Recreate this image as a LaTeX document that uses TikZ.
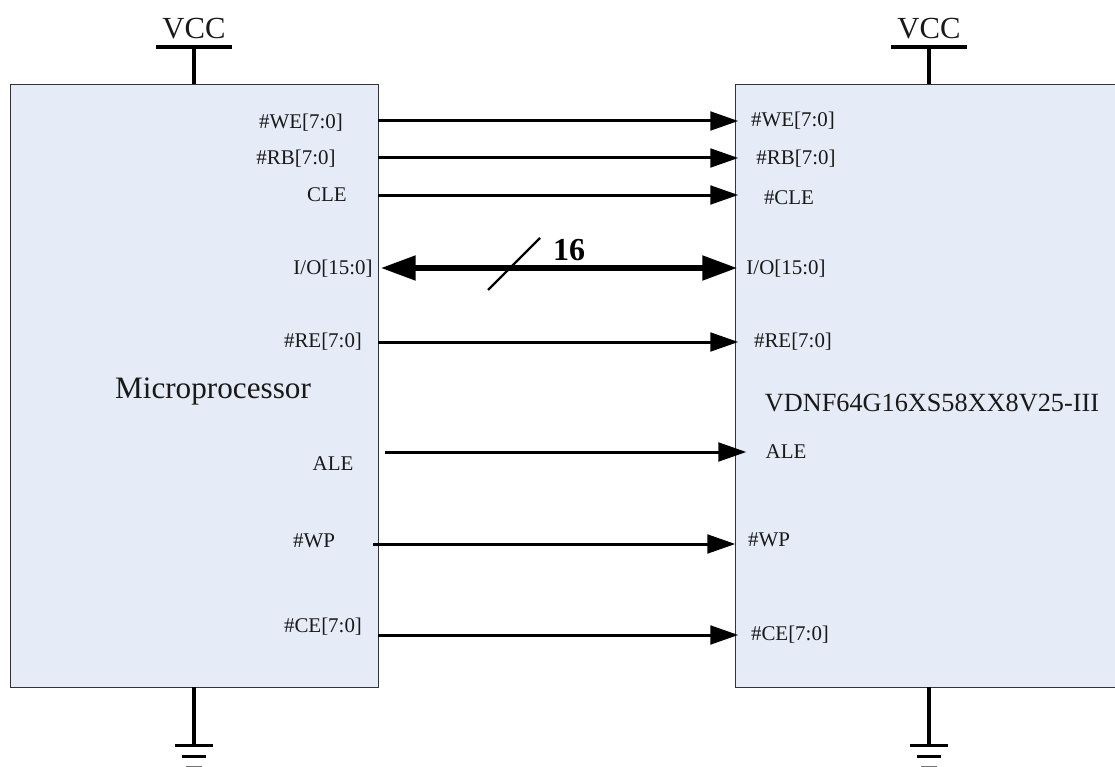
\documentclass[tikz,border=0pt]{standalone}
\usepackage{fontspec}
\setmainfont{Liberation Serif}
\usetikzlibrary{arrows.meta}
\definecolor{chipfill}{HTML}{E6ECF7}
\tikzset{
  px/.style={x=0.75pt,y=-0.75pt},
  chip/.style={draw=black!80,line width=0.8pt,fill=chipfill},
  sig/.style={draw=black,line width=2.25pt,-{Triangle[length=21pt,width=14pt]},shorten >=-1pt},
  bus/.style={draw=black,line width=3.8pt,{Triangle[length=26pt,width=18pt]}-{Triangle[length=26pt,width=18pt]}},
  powerline/.style={draw=black,line width=2.4pt},
  lbl/.style={inner sep=0pt,font=\fontsize{15.7}{16}\selectfont,text=black!90},
}
\begin{document}
\begin{tikzpicture}[px]
\useasboundingbox (0,0) rectangle (1115,767);
\clip (0,0) rectangle (1115,767);
\node[chip,minimum width=276pt,minimum height=452.25pt,anchor=north west,inner sep=0pt] (mcu) at (10,84) {};
\node[chip,minimum width=300pt,minimum height=452.25pt,anchor=north west,inner sep=0pt] (mem) at (735,84) {};
\node[inner sep=0pt,font=\fontsize{23.4}{24}\selectfont,text=black!90] (mculabel) at (213,391) {Microprocessor};
\node[inner sep=0pt,font=\fontsize{19.7}{20}\selectfont,text=black!90] (memlabel) at (932,403) {VDNF64G16XS58XX8V25-III};
% left labels
\node[lbl] (lwe) at (301,123) {\#WE[7:0]};
\node[lbl] (lrb) at (296,159) {\#RB[7:0]};
\node[lbl] (lcle) at (327,195) {CLE};
\node[lbl] (lio) at (333,269) {I/O[15:0]};
\node[lbl] (lre) at (323,342) {\#RE[7:0]};
\node[lbl] (lale) at (333,464) {ALE};
\node[lbl] (lwp) at (314,541) {\#WP};
\node[lbl] (lce) at (323,627) {\#CE[7:0]};
% right labels
\node[lbl] (rwe) at (793,121) {\#WE[7:0]};
\node[lbl] (rrb) at (796,159) {\#RB[7:0]};
\node[lbl] (rcle) at (789,198) {\#CLE};
\node[lbl] (rio) at (786,269) {I/O[15:0]};
\node[lbl] (rre) at (793,342) {\#RE[7:0]};
\node[lbl] (rale) at (786,452) {ALE};
\node[lbl] (rwp) at (769,540) {\#WP};
\node[lbl] (rce) at (790,635) {\#CE[7:0]};
% ports
\coordinate (awe) at (378,121); \coordinate (bwe) at (737,121);
\coordinate (arb) at (378,158); \coordinate (brb) at (737,158);
\coordinate (acle) at (378,195); \coordinate (bcle) at (737,195);
\coordinate (aio) at (381,268); \coordinate (bio) at (737,268);
\coordinate (are) at (378,342); \coordinate (bre) at (737,342);
\coordinate (aale) at (385,452); \coordinate (bale) at (745,452);
\coordinate (awp) at (373,544); \coordinate (bwp) at (734,544);
\coordinate (ace) at (378,635); \coordinate (bce) at (737,635);
\draw[sig] (awe) -- (bwe);
\draw[sig] (arb) -- (brb);
\draw[sig] (acle) -- (bcle);
\draw[bus] (aio) -- (bio);
\draw[sig] (are) -- (bre);
\draw[sig] (aale) -- (bale);
\draw[sig] (awp) -- (bwp);
\draw[sig] (ace) -- (bce);
% bus slash
\coordinate (s1) at (488,290); \coordinate (s2) at (540,238);
\draw[draw=black,line width=1.8pt] (s1) -- (s2);
\node[inner sep=0pt,font=\fontsize{24}{24}\selectfont\bfseries] (width) at (569,250) {16};
% power
\foreach \n/\x in {a/194,b/929}{
  \node[inner sep=0pt,font=\fontsize{23}{23}\selectfont,text=black!90] (vcc\n) at (\x,29) {VCC};
  \coordinate (vb\n) at (\x,47);
  \coordinate (vt\n) at (\x,84);
  \draw[powerline] (\x-38,47) -- (\x+38,47);
  \draw[powerline] (vb\n) -- (vt\n);
  \coordinate (gt\n) at (\x,687);
  \coordinate (gb\n) at (\x,745);
  \draw[draw=black,line width=2.6pt] (gt\n) -- (gb\n);
  \draw[draw=black,line width=2.6pt] (\x-19,745.5) -- (\x+19,745.5);
  \draw[draw=black,line width=2.6pt] (\x-12,756.5) -- (\x+12,756.5);
  \draw[draw=black!55,line width=1.5pt] (\x-8,766.5) -- (\x+8,766.5);
}
\end{tikzpicture}
\end{document}
